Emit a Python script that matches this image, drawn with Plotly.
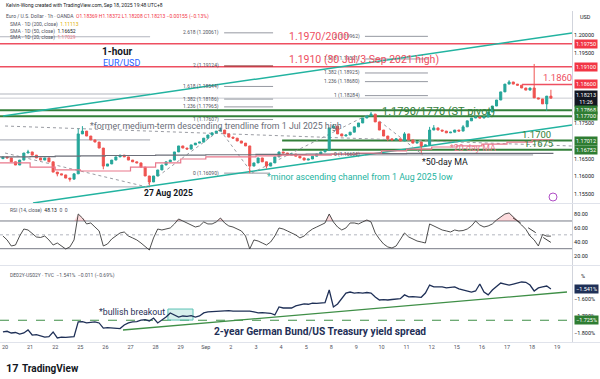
import numpy as np
import plotly.graph_objects as go

W, H = 600, 379

# ---------------- data ----------------
day_labels = ["20", "21", "22", "25", "26", "27", "28", "29", "Sep", "2", "3", "4", "5",
              "8", "9", "10", "11", "12", "15", "16", "17", "18", "19"]

first_open = 1.1650
closes = [1.1655, 1.1652, 1.1641, 1.1632, 1.1646, 1.1666, 1.1669, 1.1660, 1.1652, 1.1646,
          1.1652, 1.1641, 1.1612, 1.1607, 1.1604, 1.1595, 1.1592, 1.1607, 1.1720, 1.1728,
          1.1714, 1.1703, 1.1697, 1.1680, 1.1629, 1.1635, 1.1646, 1.1655, 1.1660, 1.1655,
          1.1646, 1.1641, 1.1638, 1.1626, 1.1601, 1.1584, 1.1601, 1.1618, 1.1632, 1.1641,
          1.1646, 1.1669, 1.1686, 1.1680, 1.1677, 1.1689, 1.1694, 1.1697, 1.1708, 1.1717,
          1.1723, 1.1728, 1.1731, 1.1720, 1.1711, 1.1708, 1.1700, 1.1694, 1.1686, 1.1629,
          1.1638, 1.1652, 1.1641, 1.1629, 1.1638, 1.1655, 1.1669, 1.1666, 1.1660, 1.1663,
          1.1657, 1.1652, 1.1646, 1.1649, 1.1657, 1.1663, 1.1669, 1.1674, 1.1737, 1.1742,
          1.1720, 1.1714, 1.1717, 1.1725, 1.1740, 1.1751, 1.1765, 1.1771, 1.1776, 1.1754,
          1.1731, 1.1714, 1.1706, 1.1703, 1.1706, 1.1700, 1.1720, 1.1703, 1.1694, 1.1697,
          1.1686, 1.1689, 1.1731, 1.1737, 1.1731, 1.1728, 1.1723, 1.1725, 1.1731, 1.1728,
          1.1740, 1.1757, 1.1765, 1.1768, 1.1765, 1.1768, 1.1782, 1.1799, 1.1816, 1.1839,
          1.1861, 1.1867, 1.1861, 1.1858, 1.1850, 1.1844, 1.1850, 1.1822, 1.1819, 1.1805,
          1.1827, 1.18213]
wick_highs = {6: 1.1675, 18: 1.1735, 19: 1.1742, 52: 1.1738, 79: 1.1748, 88: 1.1782,
              96: 1.1725, 102: 1.1740, 103: 1.1745, 110: 1.1745, 121: 1.1872,
              127: 1.1918, 131: 1.1845}
wick_lows = {13: 1.1600, 16: 1.1585, 24: 1.1620, 35: 1.1574, 59: 1.1609, 63: 1.1622,
             92: 1.1700, 100: 1.1662, 130: 1.1785}

rsi = [48.3, 42.6, 33.9, 35.3, 48.3, 58.4, 57.0, 51.2, 46.9, 46.2,
       48.3, 42.6, 35.3, 38.2, 33.9, 29.6, 32.5, 42.6, 80.1, 74.3,
       65.7, 67.1, 61.3, 55.6, 33.9, 36.8, 44.0, 48.3, 52.7, 54.1,
       48.3, 45.5, 42.6, 38.2, 32.5, 28.1, 45.5, 58.4, 57.0, 58.4,
       59.9, 65.7, 72.9, 70.0, 67.1, 64.2, 61.3, 62.8, 68.6, 65.7,
       65.7, 68.6, 74.3, 67.1, 62.8, 61.3, 58.4, 55.6, 48.3, 29.6,
       42.6, 41.1, 38.2, 35.3, 39.7, 48.3, 59.9, 58.4, 55.6, 52.7,
       49.8, 45.5, 48.3, 54.1, 58.4, 61.3, 64.2, 67.1, 80.1, 68.6,
       61.3, 57.0, 59.9, 67.1, 67.1, 65.7, 68.6, 71.4, 68.6, 52.7,
       44.0, 36.8, 32.5, 31.0, 33.9, 42.6, 52.7, 46.9, 44.0, 41.1,
       39.7, 38.2, 65.7, 62.8, 59.9, 57.0, 55.6, 54.1, 57.0, 55.6,
       56.2, 58.4, 62.8, 70.0, 64.2, 61.3, 62.8, 65.7, 71.4, 75.8,
       80.1, 81.6, 75.8, 71.4, 64.2, 58.0, 48.3, 42.6, 33.9, 50.5,
       48.13, 48.13]

spread = [-1.794, -1.790, -1.800, -1.797, -1.806, -1.800, -1.782, -1.812, -1.810, -1.818,
          -1.824, -1.822, -1.794, -1.829, -1.824, -1.826, -1.824, -1.822, -1.735, -1.733,
          -1.741, -1.739, -1.735, -1.741, -1.771, -1.769, -1.771, -1.776, -1.774, -1.753,
          -1.741, -1.735, -1.733, -1.724, -1.722, -1.729, -1.712, -1.741, -1.724, -1.706,
          -1.682, -1.694, -1.706, -1.700, -1.702, -1.698, -1.706, -1.700, -1.682, -1.676,
          -1.674, -1.671, -1.669, -1.671, -1.668, -1.671, -1.670, -1.671, -1.672, -1.671,
          -1.676, -1.682, -1.680, -1.682, -1.684, -1.694, -1.647, -1.653, -1.651, -1.653,
          -1.641, -1.635, -1.629, -1.631, -1.624, -1.626, -1.624, -1.622, -1.547, -1.647,
          -1.629, -1.594, -1.565, -1.559, -1.565, -1.563, -1.565, -1.562, -1.565, -1.588,
          -1.606, -1.604, -1.606, -1.603, -1.600, -1.598, -1.576, -1.588, -1.586, -1.588,
          -1.590, -1.565, -1.518, -1.529, -1.527, -1.529, -1.535, -1.533, -1.529, -1.541,
          -1.547, -1.553, -1.559, -1.553, -1.512, -1.559, -1.576, -1.547, -1.524, -1.506,
          -1.512, -1.518, -1.512, -1.506, -1.500, -1.502, -1.518, -1.553, -1.535, -1.529,
          -1.524, -1.541]

sma20_daily = [1.1638, 1.1626, 1.1618, 1.1615, 1.1615, 1.1626, 1.1638, 1.1649, 1.1655, 1.1655,
               1.1658, 1.1660, 1.1660, 1.1663, 1.1666, 1.1672, 1.1677, 1.1683, 1.1686, 1.1691,
               1.1697, 1.1703]
sma50_daily = [1.1655, 1.1656, 1.1657, 1.1658, 1.1659, 1.1659, 1.1660, 1.1660, 1.1661, 1.1661,
               1.1662, 1.1662, 1.1663, 1.1663, 1.1664, 1.1664, 1.1665, 1.1665, 1.1665, 1.1665,
               1.1665, 1.1665]

# key levels
resistance_levels = [1.19750, 1.19100, 1.18600]
resistance_labels = ["1.1970/2000", "1.1910 (30 Jul/3 Sep 2021 high)", "1.1860"]
resistance_start = [-0.2, -0.2, 20.6]
pivot_levels = [1.17868, 1.17700]
support_levels = [1.17012, 1.16752]
support_labels = ["1.1700", "1.1675"]
last_price = 1.18213

fib1_ratios = ["2.618", "2", "1.618", "1.382", "1.236", "1", "0"]
fib1_values = [1.20061, 1.19124, 1.18544, 1.18186, 1.17965, 1.17607, 1.16090]
fib2_ratios = ["2", "1.618", "1.382", "1.236", "1", "0"]
fib2_values = [1.19962, 1.19321, 1.18925, 1.18680, 1.18284, 1.16606]
left_levels = [1.1995, 1.1833, 1.1703, 1.1570]

channel_upper = ([-0.08, 22.59], [1.17707, 1.20057])
channel_lower = ([1.115, 22.59], [1.15245, 1.17453])
former_trend = ([0.0, 22.59], [1.17424, 1.16858])
aug_down = ([0.0, 5.66], [1.16660, 1.15698])
fib1_path = ([5.70, 8.57, 9.84], [1.15794, 1.17311, 1.16094])
fib2_path = ([9.84, 14.54, 16.65], [1.16094, 1.17772, 1.16606])
rsi_trend = ([20.24, 22.03], [74.3, 32.5])
spread_trend = ([4.7, 22.39], [-1.7824, -1.5588])
spread_level = -1.725
breakout_box = ([6.49, 7.49], [-1.724, -1.659])

# ---------------- build ----------------
n = len(closes)
xs = (np.arange(n) - 0.5) / 6.0
opens = [first_open] + closes[:-1]
highs = [max(o, c, wick_highs.get(k, 0)) for k, (o, c) in enumerate(zip(opens, closes))]
lows = [min(o, c, wick_lows.get(k, 9)) for k, (o, c) in enumerate(zip(opens, closes))]

XR = [-0.2, 22.59]
FONT = "Roboto"
UP, DN = "#26a69a", "#ef5350"
RED = "#ee4f61"
GREEN = "#33803a"
TEAL = "#22b3a0"
GREY = "#9598a1"

fig = go.Figure()


def hline(y, x0, x1, color, width=1, dash="solid", xr="x", yr="y"):
    fig.add_shape(type="line", xref=xr, yref=yr, x0=x0, x1=x1, y0=y, y1=y,
                  line=dict(color=color, width=width, dash=dash), layer="below")


def seg(xy, color, width=1, dash="solid", xr="x", yr="y"):
    xx, yy = xy
    for i in range(len(xx) - 1):
        fig.add_shape(type="line", xref=xr, yref=yr, x0=xx[i], x1=xx[i + 1], y0=yy[i], y1=yy[i + 1],
                      line=dict(color=color, width=width, dash=dash), layer="below")


def ptext(text, px, py, size, color, bold=False, anchor="left", family=FONT):
    if bold:
        text = "<b>" + text + "</b>"
    fig.add_annotation(x=px / W, y=1 - py / H, xref="paper", yref="paper", text=text,
                       showarrow=False, xanchor=anchor, yanchor="middle",
                       font=dict(size=size, color=color, family=family))


# price-pane drawings
for lv, lab, x0 in zip(resistance_levels, resistance_labels, resistance_start):
    hline(lv, x0, XR[1], RED, 1.5)
for lv in pivot_levels:
    hline(lv, XR[0], XR[1], GREEN, 2)
for lv in support_levels:
    hline(lv, 11.04, XR[1], GREEN, 2)
for lv in left_levels:
    hline(lv, XR[0], 5.78, "#b2b5be", 1.2)
hline(last_price, XR[0], XR[1], "#c9cbd1", 1)

for r, v in zip(fib1_ratios, fib1_values):
    hline(v, 8.73, 10.56 if r == "0" else 10.68, "#8b2a2a" if r == "2" else GREY, 1)
    fig.add_annotation(x=8.62, y=v, xref="x", yref="y", text=f"{r} ({v:.5f})", showarrow=False,
                       xanchor="right", yanchor="middle", font=dict(size=5, color="#50535e", family=FONT))
for r, v in zip(fib2_ratios, fib2_values):
    hline(v, 14.34, 21.04 if r == "0" else 16.85, GREY, 1)
    fig.add_annotation(x=14.22, y=v, xref="x", yref="y", text=f"{r} ({v:.5f})", showarrow=False,
                       xanchor="right", yanchor="middle", font=dict(size=5, color="#50535e", family=FONT))

seg(channel_upper, TEAL, 1.5)
seg(channel_lower, TEAL, 1.5)
seg(former_trend, "#9a9ca3", 1, "dot")
seg(aug_down, "#9a9ca3", 1, "dot")
seg(fib1_path, "#9a9ca3", 1, "dot")
seg(fib2_path, "#9a9ca3", 1, "dot")

# moving averages
ma_x = [XR[0]] + list(range(len(sma20_daily))) + [21.85]
fig.add_trace(go.Scatter(x=ma_x, y=[sma50_daily[0]] + sma50_daily + [sma50_daily[-1]],
                         mode="lines", line=dict(color="#6b6e78", width=1.2, shape="hv"),
                         hoverinfo="skip"))
fig.add_trace(go.Scatter(x=ma_x, y=[sma20_daily[0]] + sma20_daily + [sma20_daily[-1]],
                         mode="lines", line=dict(color="#e9788c", width=1.2, shape="hv"),
                         hoverinfo="skip"))

fig.add_trace(go.Candlestick(x=xs, open=opens, high=highs, low=lows, close=closes,
                             increasing=dict(line=dict(color=UP, width=1), fillcolor=UP),
                             decreasing=dict(line=dict(color=DN, width=1), fillcolor=DN),
                             whiskerwidth=0, hoverinfo="skip"))

# RSI pane
hline(70, XR[0], XR[1], "#787b86", 1, xr="x2", yr="y2")
hline(30, XR[0], XR[1], "#787b86", 1, xr="x2", yr="y2")
hline(50, XR[0], XR[1], "#b2b5be", 1, "dot", xr="x2", yr="y2")
rsi_arr = np.array(rsi)
fig.add_trace(go.Scatter(x=xs, y=np.full(n, 70.0), mode="lines", line=dict(width=0),
                         xaxis="x2", yaxis="y2", hoverinfo="skip"))
fig.add_trace(go.Scatter(x=xs, y=np.maximum(rsi_arr, 70.0), mode="lines", line=dict(width=0),
                         fill="tonexty", fillcolor="rgba(242,54,69,0.18)",
                         xaxis="x2", yaxis="y2", hoverinfo="skip"))
fig.add_trace(go.Scatter(x=xs, y=rsi, mode="lines", line=dict(color="#3b3b3b", width=0.9),
                         xaxis="x2", yaxis="y2", hoverinfo="skip"))
seg(rsi_trend, "#3b3b3b", 1, "dash", xr="x2", yr="y2")

# Spread pane
hline(spread_level, XR[0], XR[1], "#3f8f47", 1.2, "dash", xr="x3", yr="y3")
seg(spread_trend, "#3f8f47", 1.3, xr="x3", yr="y3")
fig.add_shape(type="rect", xref="x3", yref="y3", x0=breakout_box[0][0], x1=breakout_box[0][1],
              y0=breakout_box[1][0], y1=breakout_box[1][1],
              line=dict(color="#5ec4b6", width=1), fillcolor="rgba(94,196,182,0.25)", layer="below")
fig.add_trace(go.Scatter(x=xs, y=spread, mode="lines", line=dict(color="#1f3057", width=1.3),
                         xaxis="x3", yaxis="y3", hoverinfo="skip"))

# ---------------- layout ----------------
dom_x = [0, 572 / W]
axis_common = dict(showgrid=False, zeroline=False, showline=False, range=XR, domain=dom_x)
yaxis_common = dict(showgrid=False, zeroline=False, side="right", showline=True,
                    linecolor="#d1d4dc", linewidth=1, ticks="", automargin=False,
                    tickfont=dict(size=5.5, color="#131722", family=FONT))

price_ticks = [1.155, 1.16, 1.165, 1.175, 1.195, 1.20]
fig.update_layout(
    width=W, height=H, margin=dict(l=0, r=0, t=0, b=0),
    paper_bgcolor="white", plot_bgcolor="white", showlegend=False,
    font=dict(family=FONT),
    xaxis=dict(**axis_common, anchor="y", showticklabels=False, rangeslider=dict(visible=False)),
    yaxis=dict(**yaxis_common, domain=[1 - 203 / H, 1 - 11 / H], range=[1.15245, 1.20679],
               anchor="x", tickvals=price_ticks, ticktext=[f"{t:.5f}" for t in price_ticks]),
    xaxis2=dict(**axis_common, anchor="y2", showticklabels=False),
    yaxis2=dict(**yaxis_common, domain=[1 - 265 / H, 1 - 204 / H], range=[6.46, 94.5],
                anchor="x2", tickvals=[20, 40, 60, 80], ticktext=["20.00", "40.00", "60.00", "80.00"]),
    xaxis3=dict(**axis_common, anchor="y3", showticklabels=True, tickvals=list(range(len(day_labels))),
                ticktext=day_labels, ticks="", tickfont=dict(size=5.5, color="#50535e", family=FONT)),
    yaxis3=dict(**yaxis_common, domain=[1 - 342 / H, 1 - 266 / H], range=[-1.853, -1.406],
                anchor="x3", tickvals=[-1.6, -1.7, -1.8],
                ticktext=["\u22121.600%", "\u22121.700%", "\u22121.800%"]),
)

# pane separators
for py in [203.5, 265.5, 342.5]:
    fig.add_shape(type="line", xref="paper", yref="paper", x0=0, x1=1, y0=1 - py / H, y1=1 - py / H,
                  line=dict(color="#e0e3eb", width=1))

# axis price boxes
axis_boxes = [(1.19750, "1.19750", "#f23645"), (1.19100, "1.19100", "#f23645"),
              (1.18600, "1.18600", "#f23645"), (1.18213, "1.18213<br>11:26", "#131722"),
              (1.17868, "1.17868", "#2e7d32"), (1.17700, "1.17700", "#2e7d32"),
              (1.17012, "1.17012", "#2e7d32"), (1.16752, "1.16752", "#2e7d32")]
for v, t, c in axis_boxes:
    fig.add_annotation(x=573.5 / W, y=v, xref="paper", yref="y", text=t, showarrow=False,
                       xanchor="left", yanchor="middle", bgcolor=c, borderpad=1,
                       font=dict(size=5.5, color="white", family=FONT))
for v, t, c in [(-1.541, "\u22121.541%", "#1f3057"), (-1.725, "\u22121.725%", "#2e7d32")]:
    fig.add_annotation(x=573.5 / W, y=v, xref="paper", yref="y3", text=t, showarrow=False,
                       xanchor="left", yanchor="middle", bgcolor=c, borderpad=1,
                       font=dict(size=5.5, color="white", family=FONT))
ptext("USD", 578, 17, 5.5, "#131722")
ptext("%", 579, 276, 5.5, "#131722")

# level labels
for lv, lab, px, fs in zip(resistance_levels, resistance_labels, [287, 287, 541], [10.5, 10.5, 9.5]):
    fig.add_annotation(x=(px - 5) / 25.1, y=lv, xref="x", yref="y", text=lab, showarrow=False,
                       xanchor="left", yanchor="bottom", yshift=-1,
                       font=dict(size=fs, color=RED, family=FONT))
for lv, lab, px in zip(support_levels, support_labels, [520, 522]):
    fig.add_annotation(x=(px - 5) / 25.1, y=lv, xref="x", yref="y", text=lab, showarrow=False,
                       xanchor="left", yanchor="bottom", yshift=-1,
                       font=dict(size=9.5, color=GREEN, family=FONT))
ptext("1.1790/1770 (ST pivot)", 380, 112, 11, GREEN)

# headers
ptext("Kelvin-Wong created with TradingView.com, Sep 18, 2025 19:48 UTC+8", 4, 5, 5, "#131722")
ptext("Euro / U.S. Dollar \u00b7 1h \u00b7 OANDA  <span style='color:#f23645'>O1.18369 H1.18372 "
      "L1.18208 C1.18213 \u22120.00155 (\u22120.13%)</span>", 4, 16, 5, "#50535e")
ptext("SMA \u00b7 1D (200, close)  <span style='color:#e0b000'>1.11113</span>", 8, 24, 5, "#50535e")
ptext("SMA \u00b7 1D (50, close)  <span style='color:#131722'>1.16652</span>", 8, 31, 5, "#50535e")
ptext("SMA \u00b7 1D (20, close)  <span style='color:#e9788c'>1.17029</span>", 8, 37.5, 5, "#50535e")
ptext("RSI (14, close)  <span style='color:#131722'>48.13</span>  0  0", 8, 210, 5, "#50535e")
ptext("DE02Y-US02Y \u00b7 TVC  \u22121.541%  \u22120.011 (\u22120.69%)", 8, 275, 5, "#50535e")

# chart annotations
ptext("1-hour", 100, 52, 10, "#131722", bold=True)
ptext("EUR/USD", 101, 63, 9, "#2962ff")
ptext("*former medium-term descending trendline from 1 Jul 2025 high", 88, 126, 8.8, "#6a6d78")
ptext("27 Aug 2025", 142, 193, 8.5, "#131722", bold=True)
ptext("*minor ascending channel from 1 Aug 2025 low", 265, 177, 8.8, TEAL)
ptext("*20-day MA", 448, 148, 8.8, "#e9788c")
ptext("*50-day MA", 420, 162, 8.8, "#131722")
ptext("*bullish breakout", 97, 312, 8.8, "#1f3057")
ptext("2-year German Bund/US Treasury yield spread", 212, 331, 10.2, "#1f3057", bold=True)
ptext("<b>17</b>", 4, 368, 11, "#131722")
ptext("<b>TradingView</b>", 20, 368, 10, "#131722")

# small event icon
fig.add_shape(type="circle", xref="paper", yref="paper", x0=549 / W, x1=557 / W,
              y0=1 - 201 / H, y1=1 - 193 / H, line=dict(color="#b04fc6", width=1))

fig.write_html("out.html", config={"displayModeBar": False},
               post_script="document.body.style.margin='0px';document.body.style.padding='0px';")
